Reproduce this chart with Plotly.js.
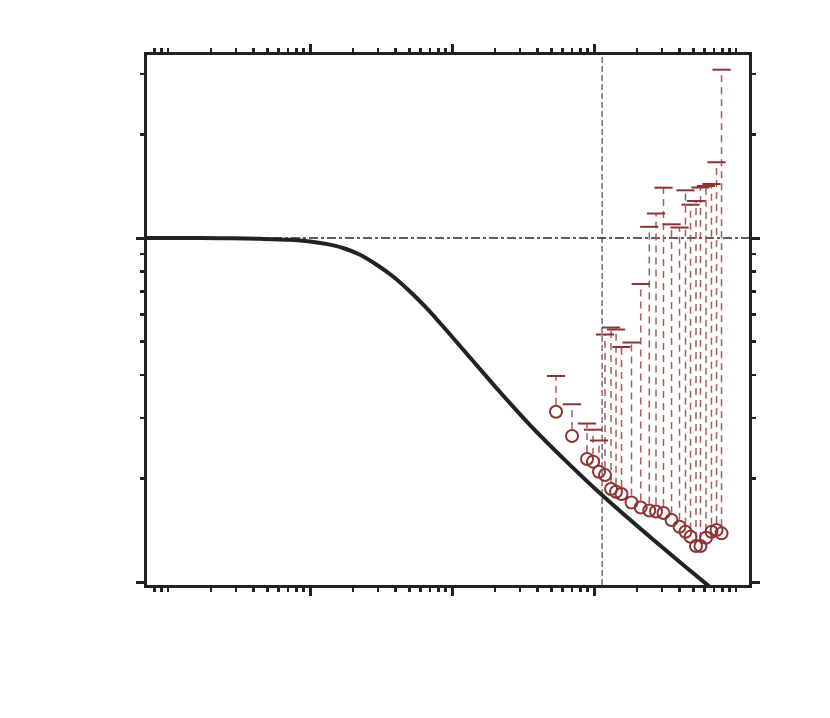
<!DOCTYPE html>
<html>
<head>
<meta charset="utf-8">
<script src="https://cdn.plot.ly/plotly-3.0.1.min.js"></script>
<style>html,body{margin:0;padding:0;background:#fff;}#chart{width:830px;height:718px;}</style>
</head>
<body>
<div id="chart"></div>
<script>
// Model curve
var curveX = [0.0689, 0.168, 0.2733, 0.4446, 0.7230, 1.0, 1.296, 1.708, 2.249, 2.964, 3.842, 5.061, 6.454, 8.232, 13.39, 21.78, 35.43, 63.50, 113.8, 273.3, 656.1, 1476];
var curveY = [1.0, 1.0, 0.998, 0.9947, 0.9880, 0.9769, 0.9613, 0.9353, 0.8937, 0.8346, 0.7728, 0.6990, 0.6323, 0.5661, 0.4494, 0.3567, 0.2860, 0.2247, 0.1790, 0.1307, 0.0967, 0.0740];

// Measured points and their upper bounds
var dataX = [54.0, 70.0, 89.3, 98.4, 108.4, 119.5, 131.8, 142.9, 156.2, 183.7, 213.2, 245.0, 273.3, 308.6, 351.6, 400.1, 440.7, 478.3, 522.7, 562.2, 614.7, 671.7, 729.3, 790.8];
var dataY = [0.3126, 0.2657, 0.2279, 0.2238, 0.2092, 0.2046, 0.1864, 0.1830, 0.1802, 0.1703, 0.1647, 0.1614, 0.1603, 0.1587, 0.1514, 0.1448, 0.1400, 0.1354, 0.1272, 0.1272, 0.1345, 0.1400, 0.1416, 0.1385];
var upperY = [0.397, 0.3286, 0.2889, 0.2772, 0.2578, 0.5242, 0.5493, 0.5420, 0.4821, 0.4968, 0.7350, 1.0779, 1.1782, 1.4003, 1.0960, 1.0728, 1.3760, 1.2498, 1.2811, 1.4023, 1.4165, 1.4355, 1.6602, 3.0850];

// Reference lines
var refY = 1.0;
var refX = 114;

// Axis ticks
var xMajor = [1, 10, 100];
var xMinor = [0.07, 0.08, 0.09, 0.1, 0.2, 0.3, 0.4, 0.5, 0.6, 0.7, 0.8, 0.9, 2, 3, 4, 5, 6, 7, 8, 9, 20, 30, 40, 50, 60, 70, 80, 90, 200, 300, 400, 500, 600, 700, 800, 900, 1000];
var yMajor = [0.1, 1];
var yMinor = [0.2, 0.3, 0.4, 0.5, 0.6, 0.7, 0.8, 0.9, 2, 3];

var xRange = [-1.148, 3.0915];
var yRange = [-1.0087, 0.532];
var H = 718, W = 830;
var margin = {l: 147, r: 81, t: 55, b: 133};
var plotH = H - margin.t - margin.b;
// circle radius (px) converted into a multiplicative factor on the log y axis
var circleR = 7;
var rFactor = Math.pow(10, circleR * (yRange[1] - yRange[0]) / plotH);

var ebX = [], ebY = [];
for (var i = 0; i < dataX.length; i++) {
  ebX.push(dataX[i], dataX[i], null);
  ebY.push(dataY[i] * rFactor, upperY[i], null);
}

var red = '#8c3434';
var traces = [
  {x: [Math.pow(10, xRange[0]), Math.pow(10, xRange[1])], y: [refY, refY], mode: 'lines',
   line: {color: '#5e5e5e', width: 2, dash: 'dashdot'}, hoverinfo: 'skip'},
  {x: [refX, refX], y: [Math.pow(10, yRange[0]), Math.pow(10, yRange[1])], mode: 'lines',
   line: {color: '#2a2a2a', width: 1, dash: '6px,3px'}, hoverinfo: 'skip'},
  {x: ebX, y: ebY, mode: 'lines', line: {color: '#a75c5c', width: 1.5, dash: '7px,5px'}, hoverinfo: 'skip'},
  {x: dataX, y: upperY, mode: 'markers', marker: {symbol: 'line-ew', size: 13, line: {color: red, width: 2}}},
  {x: curveX, y: curveY, mode: 'lines', line: {color: '#222222', width: 4, shape: 'spline', smoothing: 1}},
  {x: dataX, y: dataY, mode: 'markers', marker: {symbol: 'circle-open', size: 12, color: red, line: {color: red, width: 2}}}
];

function axis(range, major, minor) {
  return {
    type: 'log', range: range, showgrid: false, zeroline: false,
    showline: true, linecolor: '#222222', linewidth: 3, mirror: 'allticks',
    ticks: 'outside', tickmode: 'array', tickvals: major, ticklen: 8, tickwidth: 3, tickcolor: '#222222',
    showticklabels: false,
    minor: {ticks: 'outside', tickmode: 'array', tickvals: minor, ticklen: 4, tickwidth: 2.5, tickcolor: '#222222', showgrid: false}
  };
}

var layout = {
  width: W, height: H, margin: margin, showlegend: false,
  paper_bgcolor: '#ffffff', plot_bgcolor: '#ffffff',
  xaxis: axis(xRange, xMajor, xMinor),
  yaxis: axis(yRange, yMajor, yMinor)
};

Plotly.newPlot('chart', traces, layout, {staticPlot: true, displayModeBar: false});
</script>
</body>
</html>
